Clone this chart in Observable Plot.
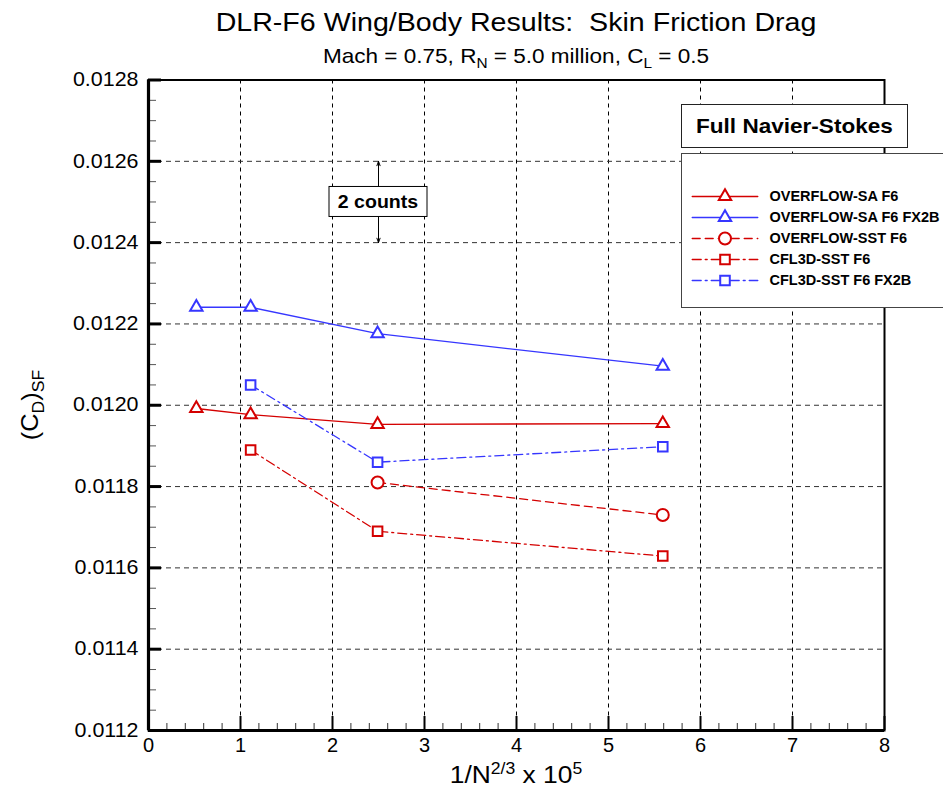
<!DOCTYPE html>
<html><head><meta charset="utf-8">
<script src="https://cdn.jsdelivr.net/npm/d3@7"></script>
<script src="https://cdn.jsdelivr.net/npm/@observablehq/plot@0.6"></script>
<style>
body{margin:0;background:#fff;}
#wrap{position:relative;width:943px;height:790px;overflow:hidden;font-family:"Liberation Sans",Arial,sans-serif;background:#fff;}
#wrap > svg{position:absolute;left:0;top:0;}
.box{position:absolute;background:#fff;box-sizing:border-box;}
</style></head><body><div id="wrap"></div>
<script>
// ---------- data ----------
const seriesNames = ["OVERFLOW-SA F6", "OVERFLOW-SA F6 FX2B", "OVERFLOW-SST F6", "CFL3D-SST F6", "CFL3D-SST F6 FX2B"];
const gridX4 = [0.52, 1.11, 2.49, 5.59];
const gridX3 = [1.11, 2.49, 5.59];
const gridX2 = [2.49, 5.59];
const overflowSA_F6 = [0.011992, 0.011977, 0.011953, 0.011955];
const overflowSA_FX2B = [0.012241, 0.012241, 0.012176, 0.012096];
const overflowSST_F6 = [0.011810, 0.011730];
const cfl3dSST_F6 = [0.011890, 0.011690, 0.011629];
const cfl3dSST_FX2B = [0.012050, 0.011860, 0.011898];
const xTicks = [0, 1, 2, 3, 4, 5, 6, 7, 8];
const yTicks = [0.0112, 0.0114, 0.0116, 0.0118, 0.0120, 0.0122, 0.0124, 0.0126, 0.0128];
const countsArrow = [{x: 2.5, y1: 0.0125, y2: 0.0126}, {x: 2.5, y1: 0.0125, y2: 0.0124}];
const countsLabel = "2 counts";
const panelLabel = "Full Navier-Stokes";

// ---------- styles ----------
const RED = "#d40000", BLUE = "#3636ff";
const styles = {
  "OVERFLOW-SA F6":      {color: RED,  dash: null,        symbol: "triangle", r: 4.6},
  "OVERFLOW-SA F6 FX2B": {color: BLUE, dash: null,        symbol: "triangle", r: 4.6},
  "OVERFLOW-SST F6":     {color: RED,  dash: "8,5",       symbol: "circle",   r: 6},
  "CFL3D-SST F6":        {color: RED,  dash: "9,4,2,4",   symbol: "square",   r: 5.4},
  "CFL3D-SST F6 FX2B":   {color: BLUE, dash: "9,4,2,4",   symbol: "square",   r: 5.4}
};

// build long table
const seriesData = [
  [seriesNames[0], gridX4, overflowSA_F6],
  [seriesNames[1], gridX4, overflowSA_FX2B],
  [seriesNames[2], gridX2, overflowSST_F6],
  [seriesNames[3], gridX3, cfl3dSST_F6],
  [seriesNames[4], gridX3, cfl3dSST_FX2B]
];
const rows = seriesData.flatMap(([name, xs, ys]) => xs.map((x, i) => ({name, x, y: ys[i]})));

const W = 943, H = 790, ML = 148, MR = 59, MT = 79.5, MB = 60;
const PW = W - ML - MR, PH = H - MT - MB;
const xMinor = d3.range(0, 8.0001, 0.2).filter(v => Math.abs(v - Math.round(v)) > 1e-6);
const yMinor = d3.range(0, 33).map(i => 0.0112 + i * 0.00005).filter((v, i) => i % 4 !== 0);
const xGrid = xTicks.slice(1, -1), yGrid = yTicks.slice(1, -1);

const lineMarks = seriesNames.map(name => Plot.line(rows.filter(d => d.name === name), {
  x: "x", y: "y", stroke: styles[name].color, strokeWidth: 1.3,
  strokeDasharray: styles[name].dash || undefined
}));
const dotMarks = seriesNames.map(name => Plot.dot(rows.filter(d => d.name === name), {
  x: "x", y: "y", symbol: styles[name].symbol, r: styles[name].r,
  stroke: styles[name].color, fill: "white", strokeWidth: 2
}));

const plot = Plot.plot({
  width: W, height: H,
  marginLeft: ML, marginRight: MR, marginTop: MT, marginBottom: MB,
  style: {fontFamily: "'Liberation Sans', Arial, sans-serif", background: "white", overflow: "visible", color: "black"},
  x: {domain: [0, 8]},
  y: {domain: [0.0112, 0.0128]},
  marks: [
    Plot.ruleX(xGrid, {stroke: "#000", strokeDasharray: "4,4", strokeWidth: 1}),
    Plot.ruleY(yGrid, {stroke: "#333", strokeDasharray: "5,4", strokeWidth: 1}),
    Plot.tickX(xMinor, {insetTop: PH - 7, stroke: "#333", strokeWidth: 1}),
    Plot.tickX(xTicks, {insetTop: PH - 14, stroke: "#000", strokeWidth: 2}),
    Plot.tickY(yMinor, {insetRight: PW - 8, stroke: "#555", strokeWidth: 1}),
    Plot.tickY(yTicks, {insetRight: PW - 13, stroke: "#000", strokeWidth: 3}),
    Plot.axisX({ticks: xTicks, tickSize: 0, tickPadding: 7, fontSize: 20, tickFormat: d3.format("d"), label: null}),
    Plot.axisY({ticks: yTicks, tickSize: 0, tickPadding: 10, fontSize: 19.5, tickFormat: d3.format(".4f"), label: null}),
    Plot.frame({strokeWidth: 2}),
    Plot.ruleX([0], {strokeWidth: 3.2}),
    Plot.ruleY([0.0112], {strokeWidth: 3.2}),
    ...lineMarks,
    ...dotMarks,
    Plot.arrow(countsArrow, {x1: "x", x2: "x", y1: "y1", y2: "y2", headLength: 7, headAngle: 40, strokeWidth: 1, stroke: "#000"})
  ]
});

const wrap = document.getElementById("wrap");
wrap.appendChild(plot);
const svg = d3.select(plot);

// stretch y tick labels horizontally (reference font is wide)
svg.selectAll("g[aria-label='y-axis tick label'] text").each(function() {
  const t = this.getAttribute("transform") || "";
  this.setAttribute("transform", t + " scale(1.1,1)");
});

// text helper with sub/superscripts
function richText(x, y, parts, {size, anchor = "middle", weight = "normal", sx = 1.1, rotate = 0}) {
  const g = svg.append("g").attr("transform", `translate(${x},${y}) rotate(${rotate}) scale(${sx},1)`);
  const t = g.append("text").attr("text-anchor", anchor).attr("font-size", size)
    .attr("font-weight", weight).attr("fill", "black")
    .attr("font-family", "'Liberation Sans', Arial, sans-serif");
  let prev = 0;
  parts.forEach(p => {
    const shift = p.shift || 0;
    t.append("tspan").attr("font-size", p.size || size).attr("dy", shift - prev).text(p.t);
    prev = shift;
  });
  return g;
}

richText(516, 31, [{t: "DLR-F6 Wing/Body Results:\u00a0\u00a0Skin Friction Drag"}], {size: 26});
richText(516, 63, [
  {t: "Mach = 0.75, R"}, {t: "N", size: 14, shift: 5}, {t: " = 5.0 million, C"},
  {t: "L", size: 14, shift: 5}, {t: " = 0.5"}
], {size: 20.5});
richText(516, 783, [
  {t: "1/N"}, {t: "2/3", size: 16, shift: -9}, {t: " x 10"}, {t: "5", size: 16, shift: -9}
], {size: 24});
richText(38, 405, [
  {t: "(C"}, {t: "D", size: 16, shift: 6}, {t: ")"}, {t: "SF", size: 16, shift: 6}
], {size: 23, rotate: -90});

// "2 counts" box positioned through the plot's scales
const sx = plot.scale("x"), sy = plot.scale("y");
const cx = sx.apply(countsArrow[0].x), cy = sy.apply(countsArrow[0].y1);
svg.append("rect").attr("x", cx - 49).attr("y", cy - 15).attr("width", 98).attr("height", 30)
  .attr("fill", "white").attr("stroke", "#000").attr("stroke-width", 1);
richText(cx, cy + 7, [{t: countsLabel}], {size: 19, weight: "bold", sx: 1.03});

// "Full Navier-Stokes" box
const fns = document.createElement("div");
fns.className = "box";
Object.assign(fns.style, {left: "681px", top: "103.5px", width: "227px", height: "44px",
  border: "1px solid #222", textAlign: "center", lineHeight: "42px", fontWeight: "bold", fontSize: "20.5px"});
fns.innerHTML = `<span style="display:inline-block;transform:scaleX(1.1)">${panelLabel}</span>`;
wrap.appendChild(fns);

// Legend box
const lg = document.createElement("div");
lg.className = "box";
Object.assign(lg.style, {left: "681px", top: "153px", width: "300px", height: "155px", border: "1px solid #444"});
wrap.appendChild(lg);

const legendPlot = Plot.plot({
  width: 262, height: 155, margin: 0,
  style: {fontFamily: "'Liberation Sans', Arial, sans-serif", background: "transparent", overflow: "visible", color: "black"},
  x: {domain: [0, 1], range: [10.7, 76.3], axis: null},
  y: {type: "point", domain: seriesNames, range: [31.3, 138], axis: null},
  marks: [
    ...seriesNames.map(name => Plot.line([0, 1].map(x => ({x, name})), {
      x: "x", y: "name", stroke: styles[name].color, strokeWidth: 1.3,
      strokeDasharray: styles[name].dash || undefined
    })),
    ...seriesNames.map(name => Plot.dot([{x: 0.5, name}], {
      x: "x", y: "name", symbol: styles[name].symbol, r: styles[name].r,
      stroke: styles[name].color, fill: "white", strokeWidth: 2
    })),
    Plot.text(seriesNames, {x: () => 1, y: d => d, text: d => d, dx: 11.7, textAnchor: "start",
      fontWeight: "bold", fontSize: 14.5, fill: "black"})
  ]
});
legendPlot.style.position = "absolute";
legendPlot.style.left = "-1px";
legendPlot.style.top = "-1px";
lg.appendChild(legendPlot);
</script></body></html>
